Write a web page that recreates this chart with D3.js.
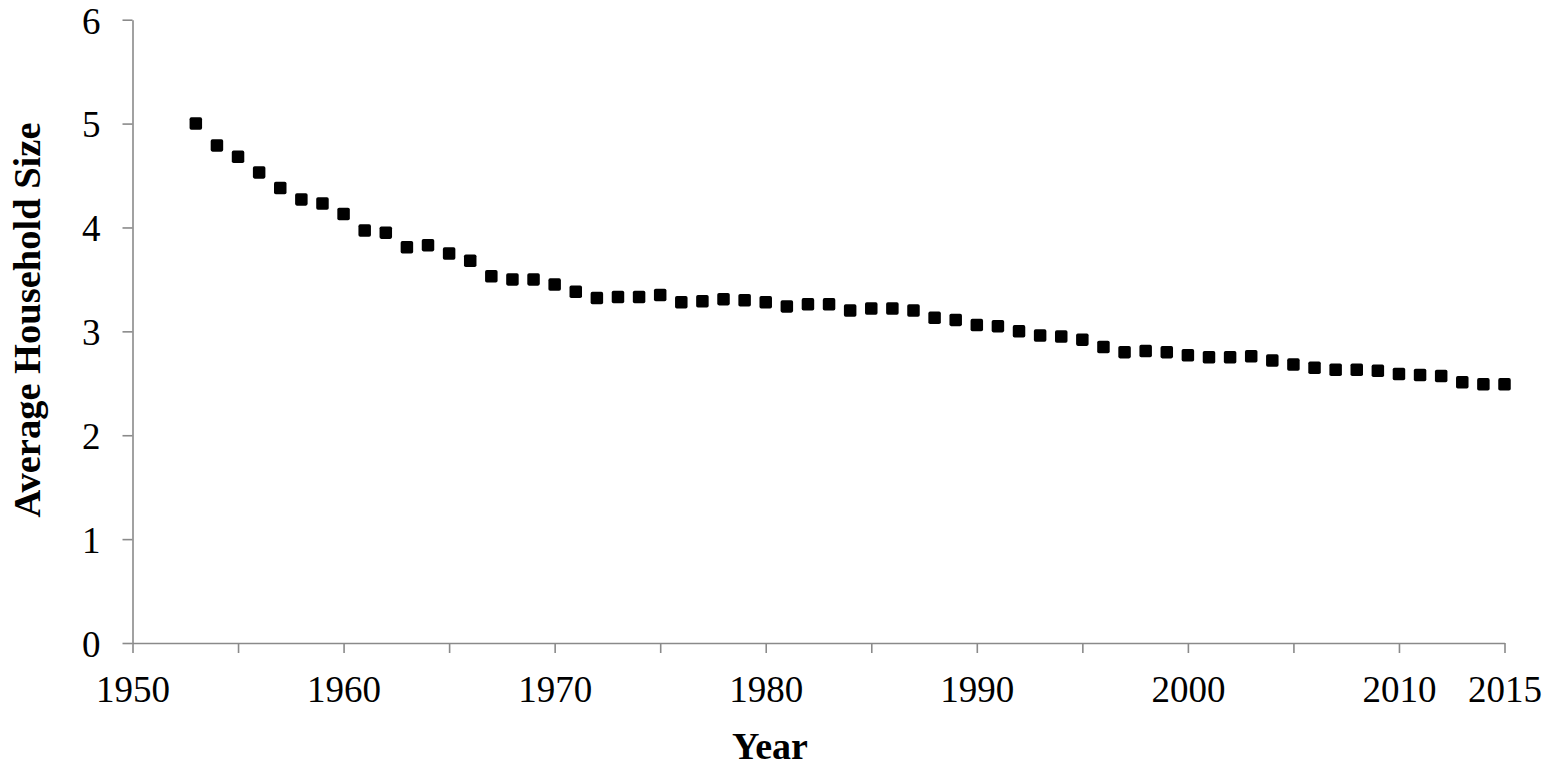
<!DOCTYPE html>
<html>
<head>
<meta charset="utf-8">
<script src="https://cdn.jsdelivr.net/npm/d3@7"></script>
<style>
  html, body { margin: 0; padding: 0; background: #fff; }
  svg { display: block; }
</style>
</head>
<body>
<svg id="chart" width="1547" height="771"></svg>
<script>
const years = [1953,1954,1955,1956,1957,1958,1959,1960,1961,1962,1963,1964,1965,1966,1967,1968,1969,
  1970,1971,1972,1973,1974,1975,1976,1977,1978,1979,1980,1981,1982,1983,1984,1985,1986,1987,1988,1989,
  1990,1991,1992,1993,1994,1995,1996,1997,1998,1999,2000,2001,2002,2003,2004,2005,2006,2007,2008,2009,
  2010,2011,2012,2013,2014,2015];
const householdSize = [5.00,4.79,4.68,4.53,4.38,4.27,4.23,4.13,3.97,3.95,3.81,3.83,3.75,3.68,3.53,3.50,3.50,
  3.45,3.38,3.32,3.33,3.33,3.35,3.28,3.29,3.31,3.30,3.28,3.24,3.26,3.26,3.20,3.22,3.22,3.20,3.13,3.11,
  3.06,3.05,3.00,2.96,2.95,2.92,2.85,2.80,2.81,2.80,2.77,2.75,2.75,2.76,2.72,2.68,2.65,2.63,2.63,2.62,
  2.59,2.58,2.57,2.51,2.49,2.49];
const xTickValues = [1950,1955,1960,1965,1970,1975,1980,1985,1990,1995,2000,2005,2010,2015];
const xTickLabels = [1950,1960,1970,1980,1990,2000,2010,2015];
const yTickValues = [0,1,2,3,4,5,6];
const xTitle = "Year";
const yTitle = "Average Household Size";

const svg = d3.select("#chart");
const mLeft = 132.5, mRight = 1504.5, mTop = 19.7, mBottom = 643;
const axisColor = "#8a8a8a";
const font = "'Liberation Serif', 'Times New Roman', serif";

const x = d3.scaleLinear().domain([1950, 2015]).range([mLeft, mRight]);
const y = d3.scaleLinear().domain([0, 6]).range([mBottom, mTop]);

// X axis
const xAxis = d3.axisBottom(x)
  .tickValues(xTickValues)
  .tickSize(10)
  .tickSizeOuter(0)
  .tickFormat(d => xTickLabels.includes(d) ? String(d) : "");
const gx = svg.append("g").attr("transform", `translate(0,${mBottom})`).call(xAxis);
gx.select(".domain").attr("stroke", axisColor).attr("stroke-width", 1.6);
gx.selectAll(".tick line").attr("stroke", axisColor).attr("stroke-width", 1.6);
gx.selectAll(".tick text")
  .attr("y", 59).attr("dy", null)
  .attr("fill", "#000")
  .style("font-family", font).style("font-size", "37px");

// Y axis
const yAxis = d3.axisLeft(y)
  .tickValues(yTickValues)
  .tickSize(10)
  .tickSizeOuter(0)
  .tickFormat(d3.format("d"));
const gy = svg.append("g").attr("transform", `translate(${mLeft},0)`).call(yAxis);
gy.select(".domain").attr("stroke", axisColor).attr("stroke-width", 1.6);
gy.selectAll(".tick line").attr("stroke", axisColor).attr("stroke-width", 1.6);
gy.selectAll(".tick text")
  .attr("x", -32).attr("dy", "0.36em")
  .attr("fill", "#000")
  .style("font-family", font).style("font-size", "37px");

// Points
const size = 12.5;
svg.append("g").selectAll("rect")
  .data(years.map((yr, i) => ({ yr, v: householdSize[i] })))
  .join("rect")
  .attr("x", d => x(d.yr) - size / 2)
  .attr("y", d => y(d.v) - size / 2)
  .attr("width", size)
  .attr("height", size)
  .attr("rx", 1.8)
  .attr("fill", "#000");

// Titles
svg.append("text")
  .attr("x", 770).attr("y", 759)
  .attr("text-anchor", "middle")
  .style("font-family", font).style("font-size", "38px").style("font-weight", "bold")
  .text(xTitle);

svg.append("text")
  .attr("transform", "translate(40,320) rotate(-90)")
  .attr("text-anchor", "middle")
  .style("font-family", font).style("font-size", "38.5px").style("font-weight", "bold")
  .text(yTitle);
</script>
</body>
</html>
